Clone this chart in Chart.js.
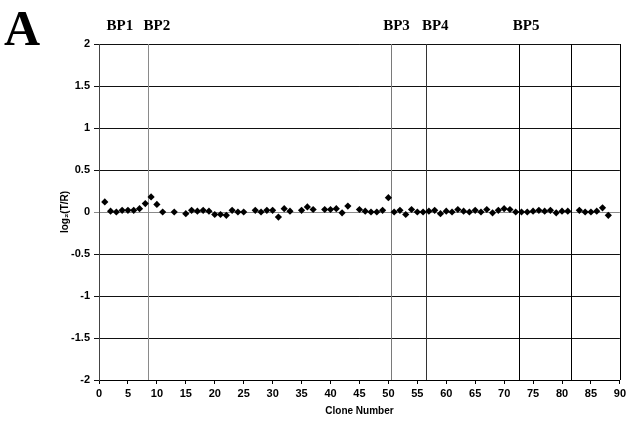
<!DOCTYPE html>
<html>
<head>
<meta charset="utf-8">
<script src="https://cdn.jsdelivr.net/npm/chart.js@4.4.0/dist/chart.umd.min.js"></script>
<style>
  html, body { margin: 0; padding: 0; background: #fff; }
  #wrap { width: 629px; height: 425px; }
</style>
</head>
<body>
<div id="wrap"><canvas id="cloneChart" width="629" height="425"></canvas></div>
<script>
// clone numbers and log2(T/R) values
var clones = [1, 2, 3, 4, 5, 6, 7, 8, 9, 10, 11, 13, 15, 16, 17, 18, 19, 20, 21, 22, 23, 24, 25,
  27, 28, 29, 30, 31, 32, 33, 35, 36, 37, 39, 40, 41, 42, 43, 45, 46, 47, 48, 49, 50,
  51, 52, 53, 54, 55, 56, 57, 58, 59, 60, 61, 62, 63, 64, 65, 66, 67, 68, 69, 70, 71, 72,
  73, 74, 75, 76, 77, 78, 79, 80, 81, 83, 84, 85, 86, 87, 88]
var ratios = [0.12, 0.01, 0.0, 0.02, 0.02, 0.02, 0.04, 0.1, 0.18, 0.09, 0.0, 0.0, -0.02, 0.02, 0.01, 0.02, 0.01, -0.03, -0.03, -0.04, 0.02, 0.0, 0.0,
  0.02, 0.0, 0.02, 0.02, -0.06, 0.04, 0.01, 0.02, 0.06, 0.03, 0.03, 0.03, 0.04, -0.01, 0.07, 0.03, 0.01, 0.0, 0.0, 0.02, 0.17,
  0.0, 0.02, -0.03, 0.03, 0.0, 0.0, 0.01, 0.02, -0.02, 0.01, 0.0, 0.03, 0.01, 0.0, 0.02, 0.0, 0.03, -0.01, 0.02, 0.04, 0.03, 0.0,
  0.0, 0.0, 0.01, 0.02, 0.01, 0.02, -0.01, 0.01, 0.01, 0.02, 0.0, 0.0, 0.01, 0.05, -0.04]

// breakpoint divider lines (clone boundaries) and their labels
var dividerPos = [8.5, 50.5, 56.5, 72.5, 81.5]
var dividerColors = ['#8a8a8a', '#7a7a7a', '#333333', '#000000', '#000000']
var bpLabels = ['BP1', 'BP2', 'BP3', 'BP4', 'BP5']
var bpLabelPos = [3.6, 10, 51.4, 58.1, 73.8]

var xTicks = [0, 5, 10, 15, 20, 25, 30, 35, 40, 45, 50, 55, 60, 65, 70, 75, 80, 85, 90]
var yTicks = [-2, -1.5, -1, -0.5, 0, 0.5, 1, 1.5, 2]

var points = clones.map(function (c, i) { return { x: c, y: ratios[i] } })

var decorations = {
  id: 'decorations',
  beforeDatasetsDraw: function (chart) {
    var ctx = chart.ctx
    var xs = chart.scales.x
    var area = chart.chartArea
    ctx.save()
    ctx.lineWidth = 1
    dividerPos.forEach(function (p, i) {
      var px = Math.round(xs.getPixelForValue(p)) + 0.5
      ctx.strokeStyle = dividerColors[i]
      ctx.beginPath()
      ctx.moveTo(px, area.top)
      ctx.lineTo(px, area.bottom)
      ctx.stroke()
    })
    // right frame edge
    var rx = Math.round(xs.getPixelForValue(90)) + 0.5
    ctx.strokeStyle = '#000'
    ctx.beginPath()
    ctx.moveTo(rx, area.top)
    ctx.lineTo(rx, area.bottom)
    ctx.stroke()
    ctx.restore()
  },
  afterDraw: function (chart) {
    var ctx = chart.ctx
    var xs = chart.scales.x
    ctx.save()
    ctx.fillStyle = '#000'
    ctx.textBaseline = 'alphabetic'
    ctx.font = 'bold 50px "Liberation Serif"'
    ctx.textAlign = 'left'
    ctx.fillText('A', 4, 45)
    ctx.font = 'bold 15px "Liberation Serif"'
    ctx.textAlign = 'center'
    bpLabels.forEach(function (t, i) {
      ctx.fillText(t, xs.getPixelForValue(bpLabelPos[i]), 30)
    })
    ctx.restore()
  }
}

var ctx = document.getElementById('cloneChart').getContext('2d')
new Chart(ctx, {
  type: 'scatter',
  data: {
    datasets: [{
      data: points,
      backgroundColor: '#000',
      borderColor: '#000',
      pointStyle: 'rectRot',
      pointRadius: 3.6,
      borderWidth: 0
    }]
  },
  options: {
    responsive: false,
    animation: false,
    layout: { padding: { left: 0, right: 8, top: 44, bottom: 0 } },
    plugins: { legend: { display: false }, tooltip: { enabled: false } },
    scales: {
      x: {
        type: 'linear',
        min: 0,
        max: 90,
        afterBuildTicks: function (s) { s.ticks = xTicks.map(function (v) { return { value: v } }) },
        afterFit: function (s) { s.height = 45 },
        grid: { drawOnChartArea: false, drawTicks: true, tickLength: 4, color: '#000' },
        border: { color: '#000', width: 1 },
        ticks: {
          color: '#000',
          font: { family: 'Liberation Sans', weight: 'bold', size: 11 },
          padding: 3,
          maxRotation: 0,
          autoSkip: false
        },
        title: {
          display: true,
          text: 'Clone Number',
          color: '#000',
          font: { family: 'Liberation Sans', weight: 'bold', size: 10 },
          padding: { top: 6, bottom: 8 }
        }
      },
      y: {
        min: -2,
        max: 2,
        afterBuildTicks: function (s) { s.ticks = yTicks.map(function (v) { return { value: v } }) },
        afterFit: function (s) { s.width = 99 },
        grid: {
          drawTicks: true,
          tickLength: 5,
          color: function (c) { return c.tick && c.tick.value === 0 ? '#8a8a8a' : '#111' }
        },
        border: { color: '#444', width: 1 },
        ticks: {
          color: '#000',
          font: { family: 'Liberation Sans', weight: 'bold', size: 11 },
          padding: 4,
          autoSkip: false,
          callback: function (v) { return String(v) }
        },
        title: {
          display: true,
          text: 'log\u2082(T/R)',
          color: '#000',
          font: { family: 'Liberation Sans', weight: 'bold', size: 10 },
          padding: { top: 59, bottom: 0 }
        }
      }
    }
  },
  plugins: [decorations]
})
</script>
</body>
</html>
